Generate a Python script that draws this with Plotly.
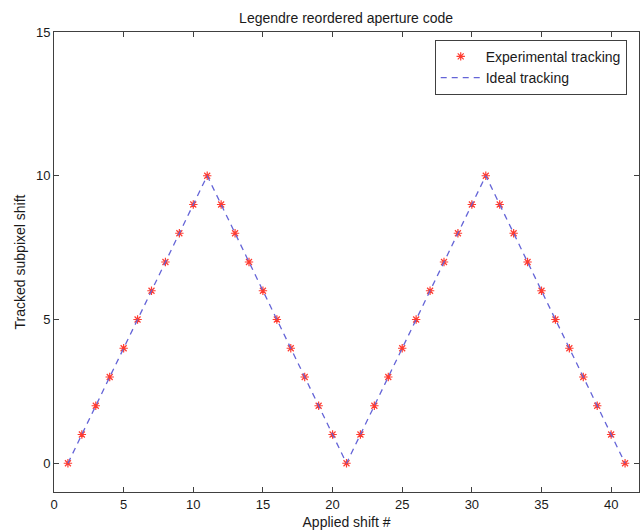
import plotly.graph_objects as go

# Applied shift index and tracked subpixel shift values
shift_index = list(range(1, 42))
ideal_shift = [0, 1, 2, 3, 4, 5, 6, 7, 8, 9, 10,
               9, 8, 7, 6, 5, 4, 3, 2, 1, 0,
               1, 2, 3, 4, 5, 6, 7, 8, 9, 10,
               9, 8, 7, 6, 5, 4, 3, 2, 1, 0]
measured_shift = [0, 1, 2, 3, 4, 5, 6, 7, 8, 9, 10,
                  9, 8, 7, 6, 5, 4, 3, 2, 1, 0,
                  1, 2, 3, 4, 5, 6, 7, 8, 9, 10,
                  9, 8, 7, 6, 5, 4, 3, 2, 1, 0]

x_ticks = [0, 5, 10, 15, 20, 25, 30, 35, 40]
y_ticks = [0, 5, 10, 15]

font_family = "Liberation Sans, Arial, sans-serif"

fig = go.Figure()
fig.add_trace(go.Scatter(
    x=shift_index, y=measured_shift, mode="markers",
    name="Experimental tracking",
    marker=dict(symbol="asterisk-open", size=7, color="#ff3b30",
                line=dict(color="#ff3b30", width=1.2)),
))
fig.add_trace(go.Scatter(
    x=shift_index, y=ideal_shift, mode="lines",
    name="Ideal tracking",
    line=dict(color="rgb(100,100,215)", width=1.3, dash="6px,5px"),
))

axis_common = dict(
    showline=True, linecolor="#404040", linewidth=1, mirror="ticks",
    ticks="inside", ticklen=5, tickcolor="#404040", tickwidth=1,
    showgrid=False, zeroline=False,
    tickfont=dict(family=font_family, size=13, color="#1a1a1a"),
)

fig.update_layout(
    width=641, height=532,
    margin=dict(l=54, r=2, t=32, b=40),
    paper_bgcolor="white", plot_bgcolor="white",
    font=dict(family=font_family, size=14, color="#1a1a1a"),
    title=dict(text="Legendre reordered aperture code", x=0.54, xanchor="center",
               y=1 - 18 / 532, yanchor="middle",
               font=dict(family=font_family, size=14, color="#1a1a1a")),
    xaxis=dict(range=[0, 42], tickvals=x_ticks,
               title=dict(text="Applied shift #", standoff=6,
                          font=dict(family=font_family, size=14)),
               **axis_common),
    yaxis=dict(range=[-1, 15], tickvals=y_ticks,
               title=dict(text="Tracked subpixel shift", standoff=7,
                          font=dict(family=font_family, size=14)),
               **axis_common),
    legend=dict(x=0.979, xanchor="right", y=0.983, yanchor="top",
                bgcolor="white", bordercolor="#404040", borderwidth=1,
                font=dict(family=font_family, size=14, color="#1a1a1a"),
                tracegroupgap=0, itemwidth=40),
    showlegend=True,
)

fig.write_html("out.html")
